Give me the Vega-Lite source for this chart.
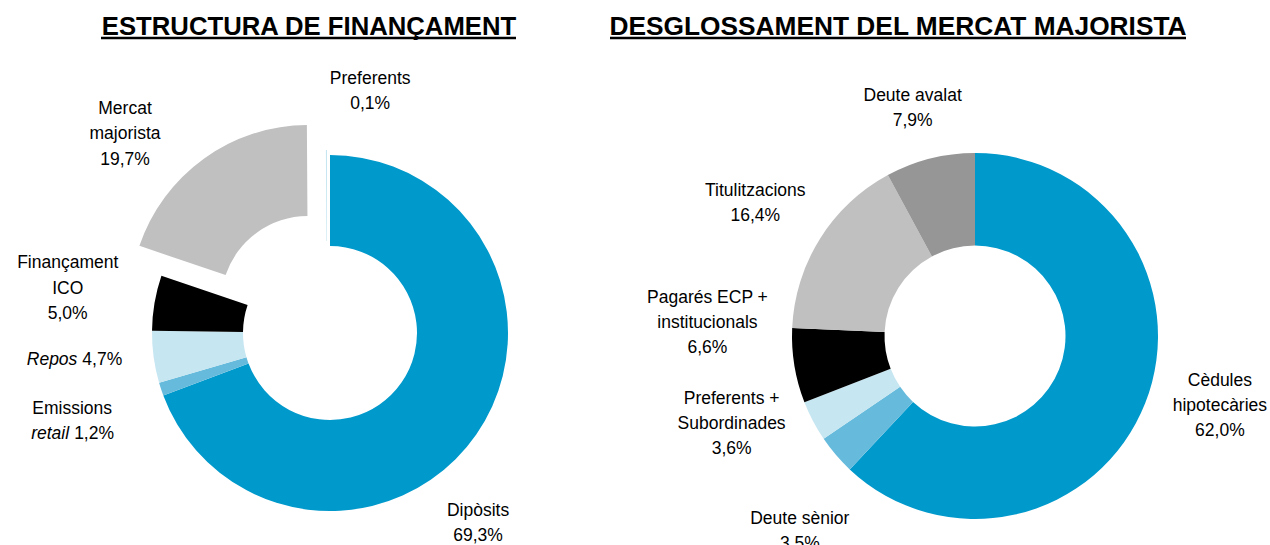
{
  "$schema": "https://vega.github.io/schema/vega-lite/v6.json",
  "padding": {"top": 14, "left": 0, "right": 0, "bottom": 0},
  "spacing": 20,
  "bounds": "flush",
  "resolve": {"scale": {"color": "independent", "theta": "independent"}},
  "config": {
    "view": {"stroke": null},
    "title": {"font": "Liberation Sans", "fontSize": 25.7, "fontWeight": "bold", "color": "#000000", "anchor": "middle", "frame": "group", "baseline": "alphabetic", "offset": -4},
    "text": {"font": "Liberation Sans", "fontSize": 17.5, "color": "#000000"}
  },
  "hconcat": [
    {
      "width": 660,
      "height": 552,
      "title": {"text": "ESTRUCTURA DE FINANÇAMENT", "dx": -21},
      "data": {"values": [
        {"i": 0, "name": "Dipòsits", "value": 69.3, "label": "Dipòsits\n69,3%", "ital": "", "rest": ""},
        {"i": 1, "name": "Emissions retail", "value": 1.2, "label": "Emissions", "ital": "retail", "rest": "1,2%"},
        {"i": 2, "name": "Repos", "value": 4.7, "label": "", "ital": "Repos", "rest": "4,7%"},
        {"i": 3, "name": "Finançament ICO", "value": 5.0, "label": "Finançament\nICO\n5,0%", "ital": "", "rest": ""},
        {"i": 4, "name": "Mercat majorista", "value": 19.7, "label": "Mercat\nmajorista\n19,7%", "ital": "", "rest": ""},
        {"i": 5, "name": "Preferents", "value": 0.1, "label": "Preferents\n0,1%", "ital": "", "rest": ""}
      ]},
      "transform": [
        {"stack": "value", "groupby": [], "sort": [{"field": "i"}], "as": ["start", "end"]},
        {"calculate": "(datum.start + datum.end) / 2", "as": "mid"}
      ],
      "layer": [
        {
          "transform": [{"filter": "datum.i < 4"}],
          "mark": {"type": "arc", "radius": 178, "radius2": 87},
          "encoding": {
            "theta": {"field": "start", "type": "quantitative", "scale": {"domain": [0, 100], "range": [0, 6.283185]}},
            "theta2": {"field": "end"},
            "color": {"field": "name", "type": "nominal", "legend": null,
              "scale": {"domain": ["Dipòsits", "Emissions retail", "Repos", "Finançament ICO", "Mercat majorista", "Preferents"],
                        "range": ["#0099CC", "#66BBDD", "#C6E6F1", "#000000", "#C0C0C0", "#C6E6F1"]}}
          }
        },
        {
          "transform": [{"filter": "datum.i == 4"}],
          "mark": {"type": "arc", "radius": 178, "radius2": 87, "xOffset": -22, "yOffset": -30},
          "encoding": {
            "theta": {"field": "start", "type": "quantitative", "scale": {"domain": [0, 100], "range": [0, 6.283185]}},
            "theta2": {"field": "end"},
            "color": {"field": "name", "type": "nominal", "legend": null}
          }
        },
        {
          "transform": [{"filter": "datum.i == 5"}],
          "mark": {"type": "arc", "radius": 178, "radius2": 87, "xOffset": -3, "yOffset": -5},
          "encoding": {
            "theta": {"field": "start", "type": "quantitative", "scale": {"domain": [0, 100], "range": [0, 6.283185]}},
            "theta2": {"field": "end"},
            "color": {"field": "name", "type": "nominal", "legend": null}
          }
        },
        {
          "transform": [{"filter": "datum.i != 2"}],
          "mark": {"type": "text", "radius": 258, "lineBreak": "\n", "lineHeight": 25.5, "align": "center", "baseline": "middle",
                   "dx": {"expr": "[-64, -13, 0, -8, -54, 41][datum.i]"},
                   "dy": {"expr": "[30.5, -5.5, -8, -26, -15, 3.5][datum.i]"}},
          "encoding": {
            "theta": {"field": "mid", "type": "quantitative", "scale": {"domain": [0, 100], "range": [0, 6.283185]}},
            "text": {"field": "label"}
          }
        },
        {
          "transform": [{"filter": "datum.i == 1 || datum.i == 2"}],
          "mark": {"type": "text", "radius": 258, "align": "right", "baseline": "middle", "fontStyle": "italic",
                   "dx": {"expr": "datum.i == 1 ? -16 : 3"},
                   "dy": {"expr": "datum.i == 1 ? 20 : -8"}},
          "encoding": {
            "theta": {"field": "mid", "type": "quantitative", "scale": {"domain": [0, 100], "range": [0, 6.283185]}},
            "text": {"field": "ital"}
          }
        },
        {
          "transform": [{"filter": "datum.i == 1 || datum.i == 2"}],
          "mark": {"type": "text", "radius": 258, "align": "left", "baseline": "middle",
                   "dx": {"expr": "datum.i == 1 ? -11 : 8"},
                   "dy": {"expr": "datum.i == 1 ? 20 : -8"}},
          "encoding": {
            "theta": {"field": "mid", "type": "quantitative", "scale": {"domain": [0, 100], "range": [0, 6.283185]}},
            "text": {"field": "rest"}
          }
        },
        {
          "data": {"values": [{"t": "ESTRUCTURA DE FINANÇAMENT"}]},
          "mark": {"type": "rule", "strokeWidth": 2.5, "color": "#000000"},
          "encoding": {"x": {"value": 101}, "x2": {"value": 516}, "y": {"value": -19}}
        }
      ]
    },
    {
      "width": 590,
      "height": 558,
      "title": {"text": "DESGLOSSAMENT DEL MERCAT MAJORISTA", "dx": -77, "fontSize": 26.3},
      "data": {"values": [
        {"i": 0, "name": "Cèdules hipotecàries", "value": 62.0, "label": "Cèdules\nhipotecàries\n62,0%"},
        {"i": 1, "name": "Deute sènior", "value": 3.5, "label": "Deute sènior\n3,5%"},
        {"i": 2, "name": "Preferents + Subordinades", "value": 3.6, "label": "Preferents +\nSubordinades\n3,6%"},
        {"i": 3, "name": "Pagarés ECP + institucionals", "value": 6.6, "label": "Pagarés ECP +\ninstitucionals\n6,6%"},
        {"i": 4, "name": "Titulitzacions", "value": 16.4, "label": "Titulitzacions\n16,4%"},
        {"i": 5, "name": "Deute avalat", "value": 7.9, "label": "Deute avalat\n7,9%"}
      ]},
      "transform": [
        {"stack": "value", "groupby": [], "sort": [{"field": "i"}], "as": ["start", "end"]},
        {"calculate": "(datum.start + datum.end) / 2", "as": "mid"}
      ],
      "layer": [
        {
          "mark": {"type": "arc", "radius": 183, "radius2": 90.5},
          "encoding": {
            "theta": {"field": "start", "type": "quantitative", "scale": {"domain": [0, 100], "range": [0, 6.283185]}},
            "theta2": {"field": "end"},
            "color": {"field": "name", "type": "nominal", "legend": null,
              "scale": {"domain": ["Cèdules hipotecàries", "Deute sènior", "Preferents + Subordinades", "Pagarés ECP + institucionals", "Titulitzacions", "Deute avalat"],
                        "range": ["#0099CC", "#66BBDD", "#C6E6F1", "#000000", "#C0C0C0", "#969696"]}}
          }
        },
        {
          "mark": {"type": "text", "radius": 258, "lineBreak": "\n", "lineHeight": 25, "align": "center", "baseline": "middle",
                   "dx": {"expr": "[5, 21, -15, -13, -1, 1][datum.i]"},
                   "dy": {"expr": "[-50, 15.5, -57, -80, -8.5, 10.5][datum.i]"}},
          "encoding": {
            "theta": {"field": "mid", "type": "quantitative", "scale": {"domain": [0, 100], "range": [0, 6.283185]}},
            "text": {"field": "label"}
          }
        },
        {
          "data": {"values": [{"t": "DESGLOSSAMENT DEL MERCAT MAJORISTA"}]},
          "mark": {"type": "rule", "strokeWidth": 2.5, "color": "#000000"},
          "encoding": {"x": {"value": -70}, "x2": {"value": 506}, "y": {"value": -19}}
        }
      ]
    }
  ]
}
